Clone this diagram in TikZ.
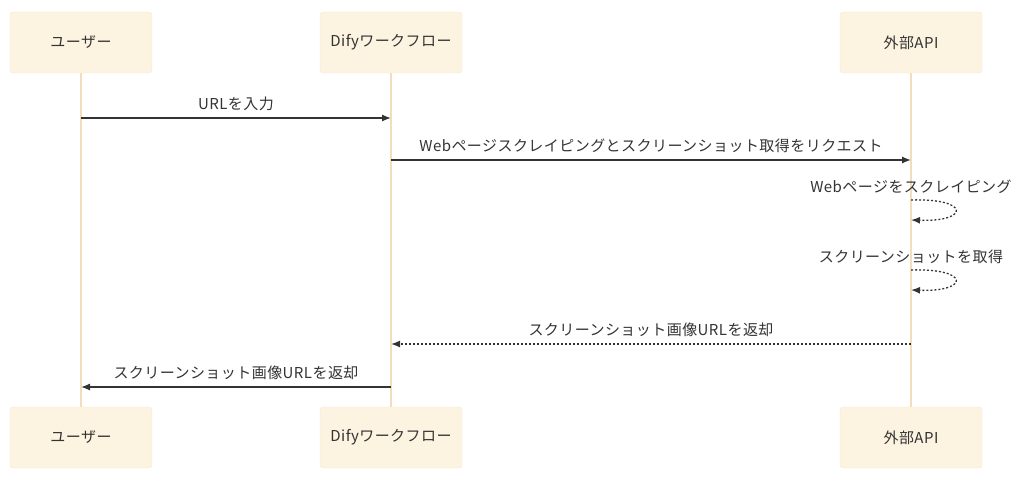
\documentclass[tikz,border=0pt]{standalone}
\usepackage{fontspec}
\setmainfont{Noto Sans CJK JP}[LetterSpace=3]
\usepackage{xcolor}
\usepackage{tikz}
\usetikzlibrary{positioning,arrows.meta}
\definecolor{actorfill}{RGB}{253,243,225}
\definecolor{actorline}{RGB}{246,232,206}
\definecolor{lifecolor}{RGB}{240,222,190}
\definecolor{msgcolor}{RGB}{51,51,51}

\begin{document}
\begin{tikzpicture}[x=1pt, y=-1pt, font=\fontsize{15}{17}\selectfont, text=msgcolor,
    actor/.style={draw=actorline, fill=actorfill, rounded corners=3pt, minimum width=142pt, minimum height=61pt},
    lifeline/.style={lifecolor, line width=1.2pt},
    msg/.style={msgcolor, line width=1.3pt, -{Latex[length=9pt, width=7pt]}},
    reply/.style={msg, dash pattern=on 2pt off 2pt},
    label/.style={above=3pt}]
    % Frame
    \useasboundingbox (0,0) rectangle (1024,484);
    
    % Actors
    \node [actor] (userT) at (81,42.5) {ユーザー};
    \node [actor] (difyT) at (391,42.5) {Difyワークフロー};
    \node [actor] (apiT) at (911,42.5) {外部API};
    \node [actor] (userB) at (81,437.5) {ユーザー};
    \node [actor] (difyB) at (391,437.5) {Difyワークフロー};
    \node [actor] (apiB) at (911,437.5) {外部API};
    
    % Lifelines
    \draw [lifeline] (userT) -- (userB);
    \draw [lifeline] (difyT) -- (difyB);
    \draw [lifeline] (apiT) -- (apiB);
    
    % Messages
    \draw [msg] (userT |- 0,118) -- node [label] {URLを入力} (difyT |- 0,118);
    \draw [msg] (difyT |- 0,160) -- node [label] {Webページスクレイピングとスクリーンショット取得をリクエスト} (apiT |- 0,160);
    
    % Self calls
    \node (scrape) at (911,187) {Webページをスクレイピング};
    \draw [reply] (apiT |- 0,200) .. controls (970,198) and (970,222) .. (apiT |- 0,220);
    \node (shot) at (911,257) {スクリーンショットを取得};
    \draw [reply] (apiT |- 0,270) .. controls (970,268) and (970,292) .. (apiT |- 0,290);
    
    % Replies
    \draw [reply] (apiT |- 0,344) -- node [label] {スクリーンショット画像URLを返却} (difyT |- 0,344);
    \draw [msg] (difyT |- 0,387) -- node [label] {スクリーンショット画像URLを返却} (userT |- 0,387);
    
\end{tikzpicture}
\end{document}
